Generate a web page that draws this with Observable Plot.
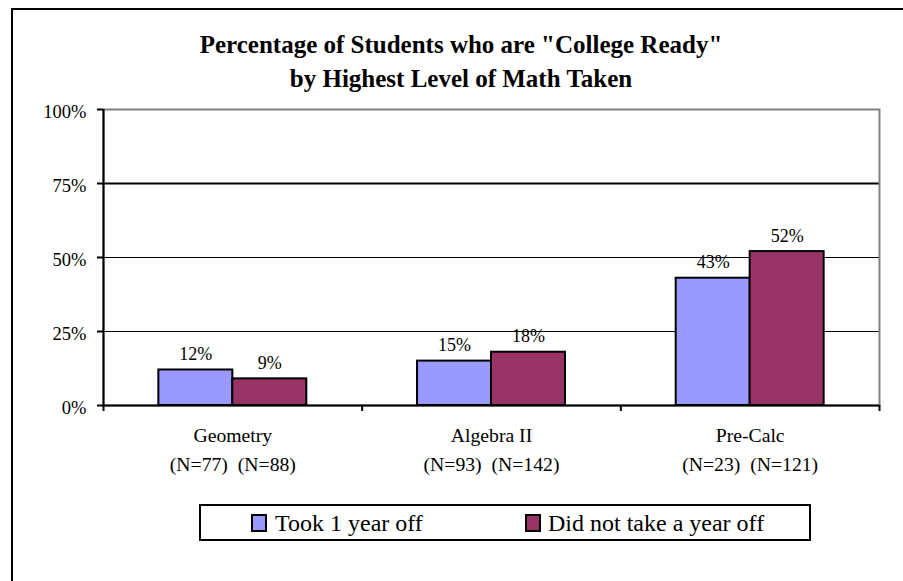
<!DOCTYPE html>
<html>
<head>
<meta charset="utf-8">
<script src="https://cdn.jsdelivr.net/npm/d3@7"></script>
<script src="https://cdn.jsdelivr.net/npm/@observablehq/plot@0.6"></script>
<style>
  html, body { margin: 0; padding: 0; background: #fff; }
  #chart { position: relative; width: 903px; height: 581px; overflow: hidden; background: #fff;
           font-family: 'Liberation Serif', 'Times New Roman', Times, serif; color: #000; }
  #chart .outline { position: absolute; left: 11px; top: 8px; width: 1000px; height: 700px;
                    border-left: 2px solid #000; border-top: 2px solid #000; }
  #plot { position: absolute; left: 0; top: 0; }
  #plot svg text { white-space: pre; }
  #title { position: absolute; left: 461px; top: 28px; transform: translateX(-50%);
           font-weight: bold; font-size: 25px; line-height: 33.5px; text-align: center; white-space: nowrap; }
  #legend { position: absolute; left: 199px; top: 504px; width: 612px; height: 37px;
            border: 2px solid #000; box-sizing: border-box; }
  #legend .swatch { position: absolute; top: 8px; width: 16px; height: 18px; border: 2px solid #000; box-sizing: border-box; }
  #legend .label { position: absolute; top: 5px; font-size: 24px; line-height: 24px; white-space: nowrap; }
</style>
</head>
<body>
<div id="chart">
  <div class="outline"></div>
  <div id="plot"></div>
  <div id="title"></div>
  <div id="legend"></div>
</div>
<script>
// Categories: highest level of math taken, with group sizes for each series
const categories = ["Geometry", "Algebra II", "Pre-Calc"];
const groupSizes = [["(N=77)", "(N=88)"], ["(N=93)", "(N=142)"], ["(N=23)", "(N=121)"]];

// Series and their percentages of "college ready" students
const series = ["Took 1 year off", "Did not take a year off"];
const tookYearOff = [12, 15, 43];
const noYearOff = [9, 18, 52];

// Axis ticks and gridlines
const yTicks = [0, 25, 50, 75, 100];
const gridValues = [25, 50, 75];

const seriesColors = ["#9999ff", "#993366"];
const titleLines = ['Percentage of Students who are "College Ready"', "by Highest Level of Math Taken"];

const font = "'Liberation Serif', 'Times New Roman', Times, serif";

// Each category occupies one unit on the x axis; the two bars sit side by side in the middle.
const valuesBySeries = [tookYearOff, noYearOff];
const barShare = 0.286;
const sidePad = (1 - series.length * barShare) / 2;
const rows = categories.flatMap((category, i) =>
  series.map((s, j) => ({
    category,
    series: s,
    value: valuesBySeries[j][i],
    x1: i + sidePad + j * barShare,
    x2: i + sidePad + (j + 1) * barShare
  }))
);

const chart = Plot.plot({
  width: 903,
  height: 581,
  marginTop: 109,
  marginRight: 24,
  marginBottom: 176,
  marginLeft: 103,
  style: {fontFamily: font, color: "#000", background: "transparent", overflow: "visible"},
  x: {domain: [0, categories.length], label: null},
  y: {domain: [0, 100], label: null},
  color: {domain: series, range: seriesColors},
  marks: [
    Plot.ruleY(gridValues, {stroke: "#000", strokeWidth: d => (d === 75 ? 2 : 1)}),
    Plot.frame({stroke: "#808080", strokeWidth: 2}),
    Plot.rectY(rows, {x1: "x1", x2: "x2", y1: 0, y2: "value", fill: "series", stroke: "#000", strokeWidth: 2}),
    Plot.ruleX([0], {stroke: "#000", strokeWidth: 2}),
    Plot.ruleY([0], {stroke: "#000", strokeWidth: 2}),
    Plot.axisY(yTicks, {tickSize: 6, strokeWidth: 2, tickFormat: () => "", label: null}),
    Plot.axisX(d3.range(categories.length + 1), {tickSize: 6, strokeWidth: 2, tickFormat: () => "", label: null}),
    Plot.text(yTicks, {
      y: d => d, frameAnchor: "left", textAnchor: "end", dx: -17, dy: 3,
      text: d => `${d}%`, fontSize: 18.5, fill: "#000"
    }),
    Plot.text(rows, {
      x: d => (d.x1 + d.x2) / 2, y: "value", dy: -15.6,
      text: d => `${d.value}%`, fontSize: 18, fill: "#000"
    }),
    Plot.text(categories, {
      x: (d, i) => i + 0.5, frameAnchor: "bottom", lineAnchor: "top", lineHeight: 1.45, dy: 16.6,
      text: (d, i) => `${d}\n${groupSizes[i].join("  ")}`, fontSize: 19.7, fill: "#000"
    })
  ]
});
document.getElementById("plot").appendChild(chart);

// Title
const title = document.getElementById("title");
titleLines.forEach((line, i) => {
  if (i) title.appendChild(document.createElement("br"));
  title.appendChild(document.createTextNode(line));
});

// Legend
const legend = document.getElementById("legend");
const swatchLeft = [50, 324];
const labelLeft = [74, 347];
series.forEach((s, i) => {
  const sw = document.createElement("div");
  sw.className = "swatch";
  sw.style.left = swatchLeft[i] + "px";
  sw.style.background = seriesColors[i];
  legend.appendChild(sw);
  const lab = document.createElement("div");
  lab.className = "label";
  lab.style.left = labelLeft[i] + "px";
  lab.textContent = s;
  legend.appendChild(lab);
});
</script>
</body>
</html>
